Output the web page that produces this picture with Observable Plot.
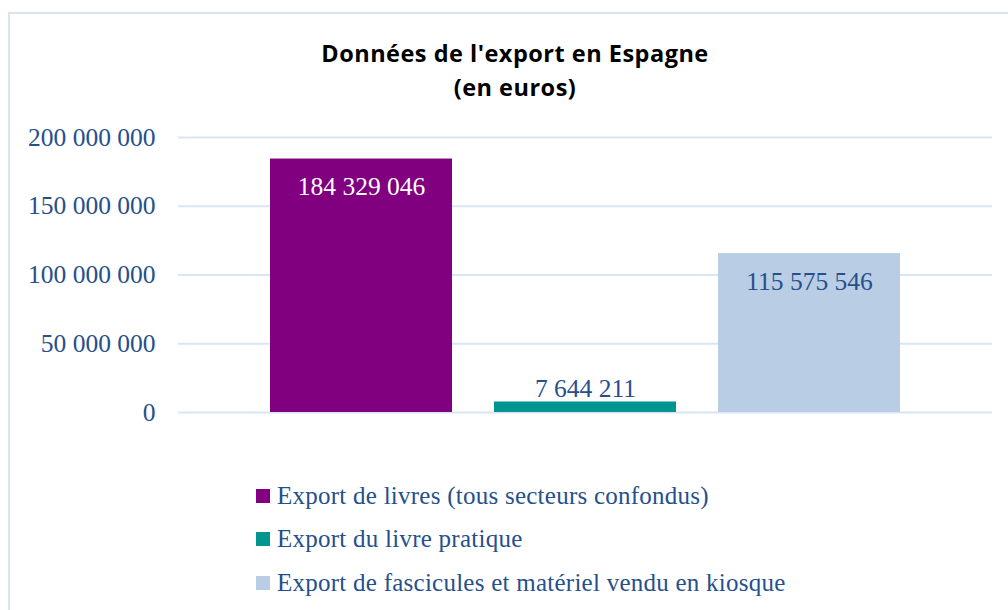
<!DOCTYPE html>
<html>
<head>
<meta charset="utf-8">
<script src="https://cdn.jsdelivr.net/npm/d3@7"></script>
<script src="https://cdn.jsdelivr.net/npm/@observablehq/plot@0.6"></script>
<style>
  html, body { margin: 0; padding: 0; background: #fff; width: 1008px; height: 610px; overflow: hidden; }
  #frame { position: absolute; left: 8px; top: 12px; width: 1100px; height: 700px;
           border-left: 2px solid #d9e3f1; border-top: 2px solid #d9e3f1; }
  #title { position: absolute; left: 0; top: 36px; width: 1030px; text-align: center;
           font-family: "Open Sans", Lato, sans-serif; font-weight: bold; font-size: 23.5px;
           letter-spacing: 0.5px; line-height: 34px; color: #000; }
  #chart { position: absolute; left: 0; top: 100px; }
  #legend { position: absolute; left: 256px; top: 474px; font-family: "Liberation Serif", serif;
            font-size: 25px; letter-spacing: 0.25px; color: #25508b; }
  .item { height: 43.5px; display: flex; align-items: center; white-space: nowrap; }
  .sw { width: 14px; height: 14px; margin-right: 7px; flex: none; }
</style>
</head>
<body>
<div id="frame"></div>
<div id="title">Données de l'export en Espagne<br>(en euros)</div>
<div id="chart"></div>
<div id="legend"></div>
<script>
const series = [
  "Export de livres (tous secteurs confondus)",
  "Export du livre pratique",
  "Export de fascicules et matériel vendu en kiosque"
];
const values = [184329046, 7644211, 115575546];
const colors = ["#800080", "#00968f", "#b9cde5"];
const labelColors = ["#ffffff", "#25508b", "#25508b"];
const yTicks = [0, 50000000, 100000000, 150000000, 200000000];

const data = series.map((s, i) => ({series: s, value: values[i], labelColor: labelColors[i]}));
const fmt = d => d3.format(",")(d).replace(/,/g, " ");

const chart = Plot.plot({
  width: 1008,
  height: 330,
  marginTop: 37,
  marginBottom: 18,
  marginLeft: 178,
  marginRight: 16,
  style: { fontFamily: "Liberation Serif, serif", fontSize: "25.5px", color: "#25508b", background: "transparent" },
  x: { domain: series, paddingInner: 0.187, paddingOuter: 0.4025, axis: null },
  y: { domain: [0, 200000000], ticks: yTicks, tickFormat: fmt, tickSize: 0, tickPadding: 23, label: null },
  color: { domain: series, range: colors },
  marks: [
    Plot.ruleY(yTicks, { stroke: "#d9e5f5", strokeWidth: 2 }),
    Plot.barY(data, { x: "series", y: "value", fill: "series" }),
    Plot.text(data.filter(d => d.value > 50000000), {
      x: "series", y: "value", text: d => fmt(d.value), fill: "labelColor",
      dy: 28, fontSize: 25.5
    }),
    Plot.text(data.filter(d => d.value <= 50000000), {
      x: "series", y: "value", text: d => fmt(d.value), fill: "labelColor",
      dy: -13, fontSize: 25.5
    })
  ]
});
chart.querySelectorAll('[aria-label="y-axis tick label"] text').forEach(t => t.setAttribute("fill", "#25508b"));
document.getElementById("chart").appendChild(chart);

const legend = document.getElementById("legend");
series.forEach((s, i) => {
  const row = document.createElement("div");
  row.className = "item";
  const sw = document.createElement("span");
  sw.className = "sw";
  sw.style.background = colors[i];
  const tx = document.createElement("span");
  tx.textContent = s;
  row.appendChild(sw);
  row.appendChild(tx);
  legend.appendChild(row);
});
</script>
</body>
</html>
